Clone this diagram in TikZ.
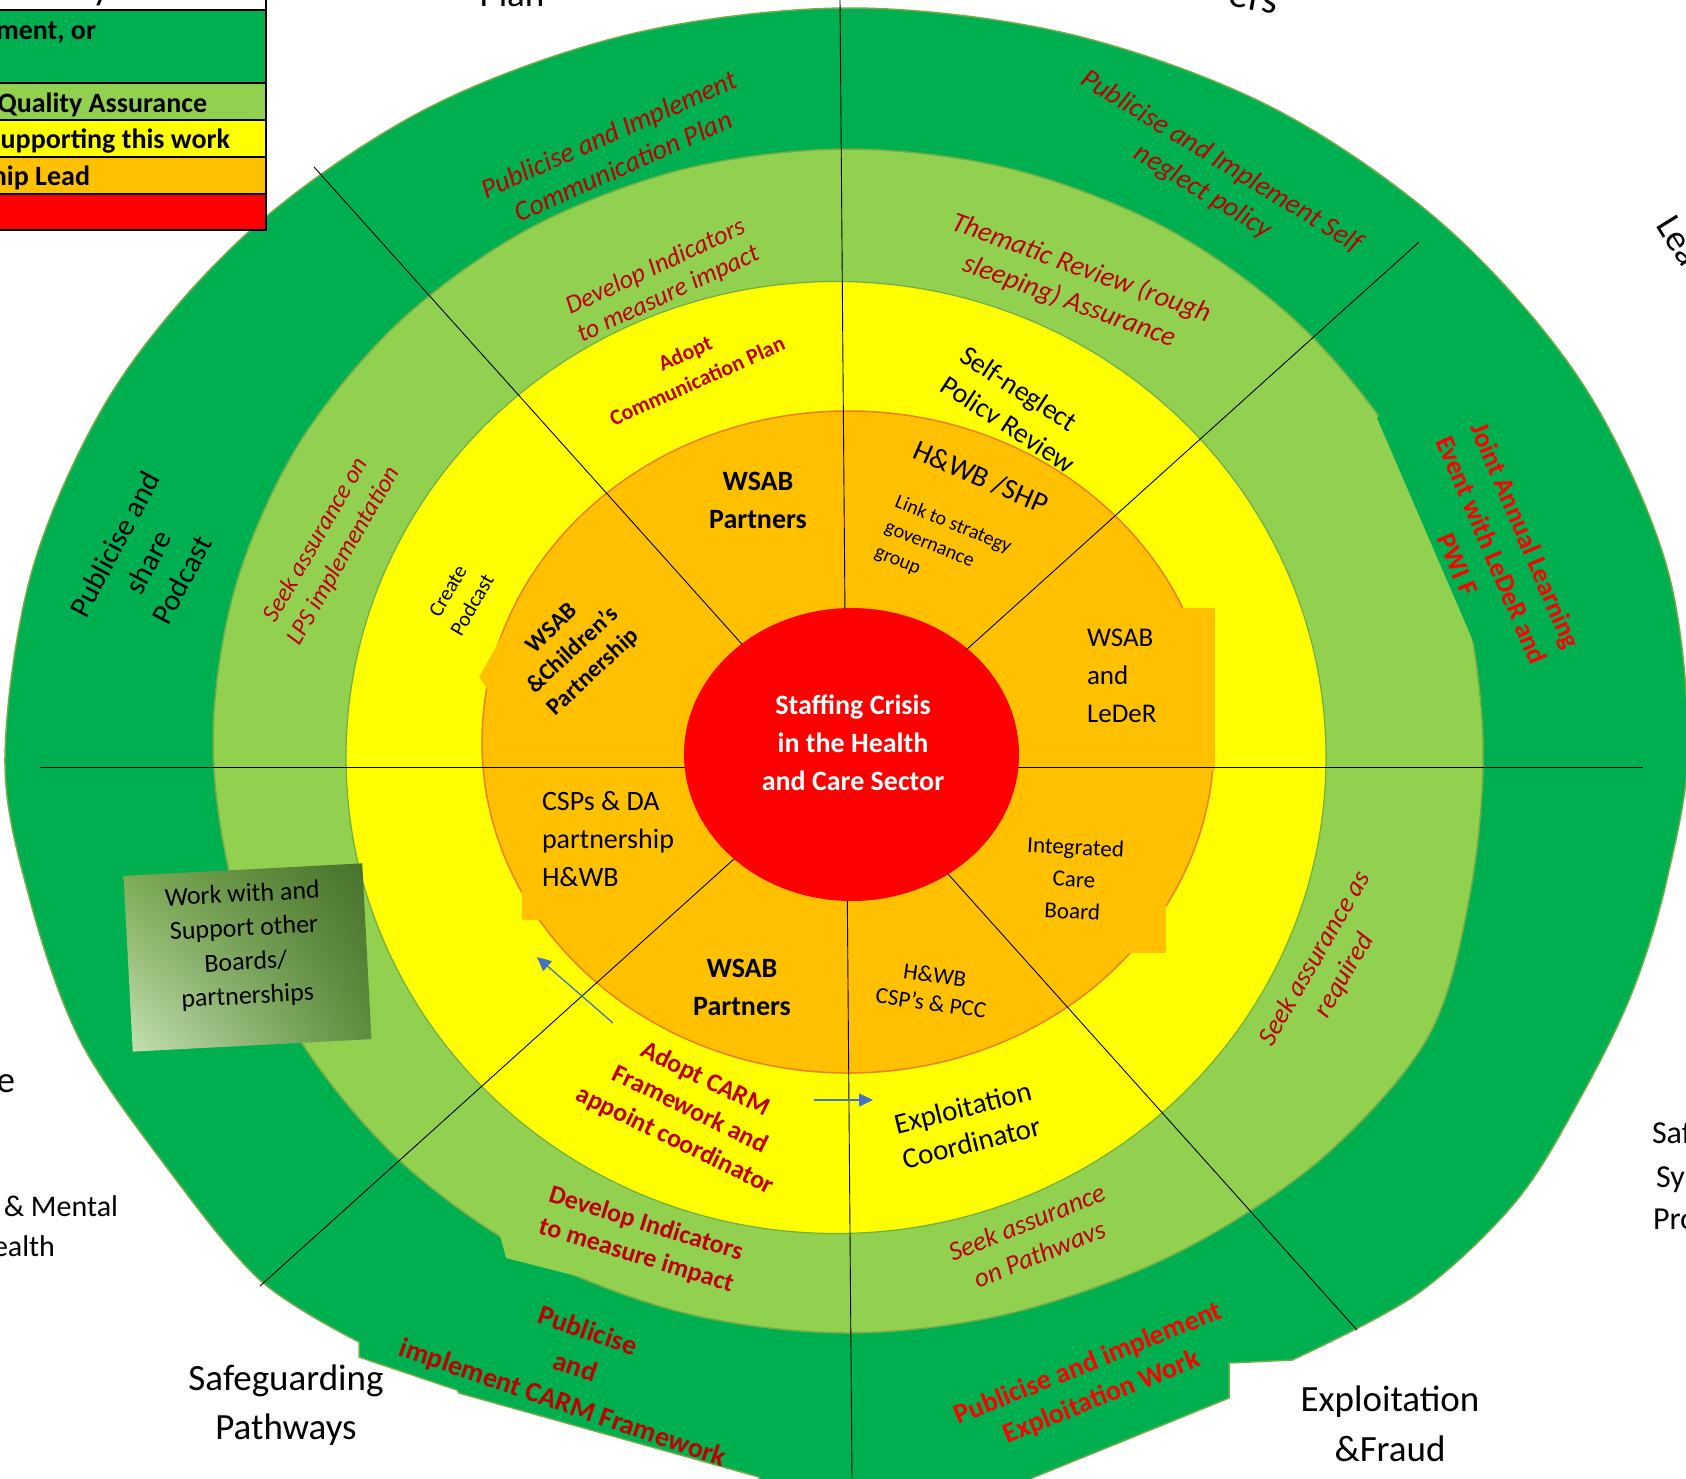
\documentclass[tikz,border=0pt]{standalone}
\usepackage{fontspec}
\setmainfont{Carlito}
\usetikzlibrary{arrows.meta,shadings}
\definecolor{dkg}{HTML}{00B050}
\definecolor{ltg}{HTML}{92D050}
\definecolor{yel}{HTML}{FFFF00}
\definecolor{org}{HTML}{FFC000}
\definecolor{rd}{HTML}{FF0000}
\definecolor{drd}{HTML}{C00000}
\definecolor{edgeg}{HTML}{70AD47}
\definecolor{edgeo}{HTML}{ED7D31}
\definecolor{arrowb}{HTML}{4472C4}
\definecolor{gul}{HTML}{78A84E}
\definecolor{gur}{HTML}{46702C}
\definecolor{gll}{HTML}{C8E2B6}
\definecolor{glr}{HTML}{5E903C}
\newcommand{\myfs}[2]{\fontsize{#1}{#2}\selectfont}
\begin{document}
\begin{tikzpicture}[x=1pt,y=-1pt,
  every node/.style={inner sep=0pt, outer sep=0pt},
  divline/.style={draw=black, line width=0.9pt},
  blarrow/.style={draw=arrowb, line width=1.3pt, -{Triangle[length=14pt,width=13pt]}},
  ritl/.style={text=drd, align=center},
  wbox/.style={rotate=3, minimum width=239pt, minimum height=176pt,
    upper left=gul, upper right=gur, lower left=gll, lower right=glr}]
\useasboundingbox (0,0) rectangle (1686,1478);
\fill[white] (0,0) rectangle (1686,1478);

% outer dark green ring
\fill[dkg, draw=edgeg, line width=1.5pt] plot[smooth, tension=0.55] coordinates {(359,1342) (260,1280) (165,1165) (80,1040) (30,900) (5,758) (34,564) (118,383) (253,228) (428,108) (631,34) (850,8) (1069,34) (1273,108) (1447,228) (1582,383) (1666,564) (1688,745) (1667,879) (1633,990) (1583,1093) (1517,1200) (1417,1294) (1292,1360)} -- (1229,1363) -- (1229,1398) -- (1032,1478) -- (1032,1495) -- (759,1495) -- (759,1477) -- (459,1393) -- (457,1390) -- (359,1357) -- cycle;

% light green ring
\fill[ltg, draw=edgeg, line width=1.5pt] plot[smooth cycle, tension=0.55] coordinates {(1483,741) (1470,894) (1428,1037) (1320,1160) (1175,1254) (1012,1313) (848,1333) (684,1313) (530,1254) (399,1160) (298,1037) (235,894) (213,741) (235,588) (298,445) (399,322) (530,228) (684,169) (848,149) (1012,169) (1166,228) (1297,322) (1398,445) (1461,588)};
\fill[ltg] (500,1236) -- (504,1250) -- (506,1258) -- (726,1314) -- (740,1300) -- cycle;
% dark green block edge cutting into light green (right)
\fill[dkg] (1385,410) -- (1377,418) -- (1480,657) -- (1510,657) -- (1510,400) -- cycle;

% yellow ring
\fill[yel, draw=edgeg, line width=1.2pt] (836,757.5) ellipse [x radius=490, y radius=476];

% orange ring
\fill[org, draw=edgeo, line width=1.5pt] (848,742) ellipse [x radius=366, y radius=331];
\fill[org] (1100,608) rectangle (1215,770);
\fill[org] (1020,780) rectangle (1166,953);
\fill[org] (522,775) rectangle (620,920);
\fill[org] (510,622) -- (479,677) -- (488,690) -- (520,690) -- cycle;

% dividing lines
\coordinate (vt) at (840,0); \coordinate (vb) at (852,1478);
\coordinate (hl) at (40,767); \coordinate (hr) at (1643,767);
\coordinate (d1a) at (314,167); \coordinate (d1b) at (1357,1330);
\coordinate (d2a) at (1419,242); \coordinate (d2b) at (260,1286);
\draw[divline] (vt) -- (vb);
\draw[divline] (hl) -- (hr);
\draw[divline] (d1a) -- (d1b);
\draw[divline] (d2a) -- (d2b);

% red centre
\fill[rd] (851.5,754.5) ellipse [x radius=167.5, y radius=146.5];

% gradient box
\node[wbox] (wb) at (247.5,957.5) {};
\node[font=\myfs{26}{34}, align=center, rotate=3] (wt) at (245,946) {Work with and\\Support other\\Boards/\\partnerships};

% outer ring texts
\node[font=\myfs{28}{35}\itshape, ritl, rotate=24] (t1) at (616,150) {Publicise and Implement\\Communication Plan};
\node[font=\myfs{28}{35}\itshape, ritl, rotate=-31.5] (t2) at (1212,177) {Publicise and Implement Self\\neglect policy};
\node[font=\myfs{30}{38}, align=center, rotate=62] (t3) at (148,562) {Publicise and\\share\\Podcast};
\node[font=\myfs{27}{37}\bfseries, text=rd, align=center, rotate=-67] (t4) at (1492,550) {Joint Annual Learning\\Event with LeDeR and\\PWI F};
\node[font=\myfs{28}{38}\bfseries, ritl, rotate=-19] (t5) at (575,1368) {Publicise\\and\\implement CARM Framework};
\node[font=\myfs{28}{36}\bfseries, text=rd, align=center, rotate=22] (t6) at (1095,1381) {Publicise and implement\\Exploitation Work};

% light green ring texts
\node[font=\myfs{26}{30}\itshape, ritl, rotate=25] (t7) at (662,281) {Develop Indicators\\to measure impact};
\node[font=\myfs{28}{35}\itshape, ritl, rotate=-20] (t8) at (1075,285) {Thematic Review (rough\\sleeping) Assurance};
\node[font=\myfs{25}{32}\itshape, ritl, rotate=60] (t9) at (330,548) {Seek assurance on\\LPS implementation};
\node[font=\myfs{27}{34}\itshape, ritl, rotate=60] (t10) at (1330,967) {Seek assurance as\\required};
\node[font=\myfs{27}{34}\itshape, ritl, rotate=22] (t11) at (1033,1238) {Seek assurance\\on Pathwavs};
\node[font=\myfs{26}{33}\bfseries, ritl, rotate=-17] (t12) at (641,1240) {Develop Indicators\\to measure impact};

% yellow ring texts
\node[font=\myfs{22}{30}\bfseries, ritl, rotate=24] (t13) at (691,367) {Adopt\\Communication Plan};
\node[font=\myfs{28}{36}, align=left, rotate=-33] (t14) at (1018,409) {Self-neglect\\Policv Review};
\node[font=\myfs{21}{28}, align=center, rotate=60] (t24) at (460,598) {Create\\Podcast};
\node[font=\myfs{26}{34}\bfseries, ritl, rotate=-26] (t25) at (690,1110) {Adopt CARM\\Framework and\\appoint coordinator};
\node[font=\myfs{29}{36}, align=center, rotate=14] (t26) at (967,1125) {Exploitation\\Coordinator};

% orange ring texts
\node[font=\myfs{29}{34}, rotate=-23.5] (t15) at (981,477) {H\&WB /SHP};
\node[font=\myfs{20}{27}, align=left, rotate=-22] (t16) at (943,550) {Link to strategy\\governance\\group};
\node[font=\myfs{27}{38}, align=left, anchor=west] (t17) at (1087,676) {WSAB\\and\\LeDeR};
\node[font=\myfs{23}{32}, align=center, rotate=-3] (t18) at (1074,879) {Integrated\\Care\\Board};
\node[font=\myfs{23}{28}, align=center, rotate=-8] (t19) at (933,989) {H\&WB\\CSP’s \& PCC};
\node[font=\myfs{28}{38}\bfseries, align=center] (t20) at (758,500) {WSAB\\Partners};
\node[font=\myfs{28}{38}\bfseries, align=center] (t21) at (742,987) {WSAB\\Partners};
\node[font=\myfs{24}{30}\bfseries, align=center, rotate=43] (t22) at (573,651) {WSAB\\\&Children’s\\Partnership};
\node[font=\myfs{28}{38}, align=left, anchor=west] (t23) at (542,839) {CSPs \& DA\\partnership\\H\&WB};

% centre
\node[font=\myfs{28}{38}\bfseries, text=white, align=center] (t27) at (853,743) {Staffing Crisis\\in the Health\\and Care Sector};

% blue arrows
\coordinate (a1s) at (613,1023); \coordinate (a1e) at (537,957);
\coordinate (a2s) at (814,1100); \coordinate (a2e) at (873,1100);
\draw[blarrow] (a1s) -- (a1e);
\draw[blarrow] (a2s) -- (a2e);

% outside labels
\node[font=\myfs{37}{49}, align=center] (c1) at (286,1405) {Safeguarding\\Pathways};
\node[font=\myfs{37}{50}, align=center] (c2) at (1390,1424) {Exploitation\\\&Fraud};
\node[font=\myfs{37}{44}, anchor=base] (c3) at (512,6) {Plan};
\node[font=\myfs{40}{44}, anchor=base, rotate=-10] (c4) at (1252,10) {ers};
\node[font=\myfs{37}{44}, anchor=base west, rotate=-58] (c5) at (1655,225) {Lea};
\node[font=\myfs{32}{44}, anchor=base west] (c6) at (1652,1143) {Saf};
\node[font=\myfs{32}{44}, anchor=base west] (c7) at (1656,1187) {Sy};
\node[font=\myfs{32}{44}, anchor=base west] (c8) at (1653,1229) {Pro};
\node[font=\myfs{37}{44}, anchor=base east] (c9) at (15,1092) {e};
\node[font=\myfs{30}{40}, anchor=base east] (c10) at (118,1216) {\& Mental};
\node[font=\myfs{30}{40}, anchor=base east] (c11) at (55,1256) {ealth};

% legend
\fill[dkg] (-5,10) rectangle (266,83);
\fill[ltg] (-5,83) rectangle (266,120);
\fill[yel] (-5,120) rectangle (266,157);
\fill[org] (-5,157) rectangle (266,194);
\fill[rd] (-5,194) rectangle (266,230);
\foreach \yy in {10,83,120,157,194,230} \draw[line width=2.5pt] (-5,\yy) -- (266,\yy);
\draw[line width=2.5pt] (266,-5) -- (266,231.2);
\node[font=\myfs{28}{34}\bfseries, anchor=base east] (k0) at (107,1) {y};
\node[font=\myfs{28}{34}\bfseries, anchor=base east] (k1) at (96,39) {ment, or};
\node[font=\myfs{28}{34}\bfseries, anchor=base east] (k2) at (207,112) {Quality Assurance};
\node[font=\myfs{28}{34}\bfseries, anchor=base east] (k3) at (230,148) {upporting this work};
\node[font=\myfs{28}{34}\bfseries, anchor=base east] (k4) at (90,185) {hip Lead};
\end{tikzpicture}
\end{document}
